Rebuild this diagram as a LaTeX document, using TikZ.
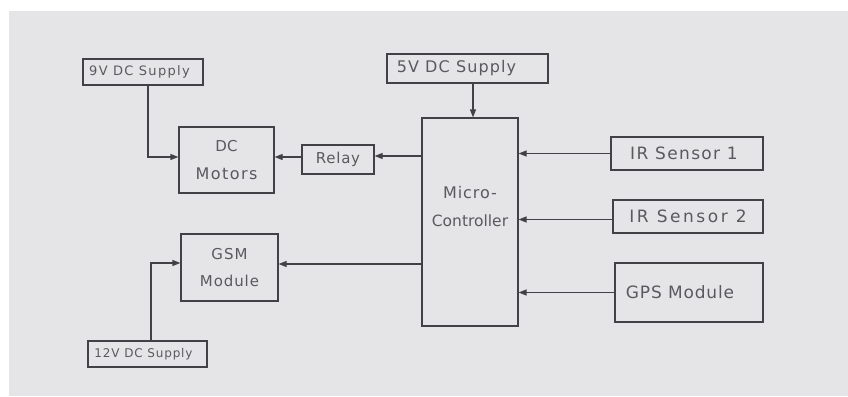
\documentclass[tikz,border=0pt]{standalone}
\usepackage{fontspec}
\setmainfont{DejaVu Sans}
\usetikzlibrary{arrows.meta}
\definecolor{paper}{HTML}{E5E5E8}
\definecolor{ink}{HTML}{414146}
\definecolor{txt}{HTML}{5A5A5E}
\newcommand\lbl[3]{{\fontsize{#1}{18}\selectfont\addfontfeatures{LetterSpace=#2}#3}}
\begin{document}
\begin{tikzpicture}[x=1pt,y=-1pt,
  box/.style={draw=ink, line width=1.2pt, text=txt, inner sep=0pt, align=center,
    font=\fontsize{15}{18}\selectfont},
  plain/.style={text=txt, inner sep=0pt, align=center, font=\fontsize{15}{18}\selectfont},
  arr/.style={draw=ink, line width=1.2pt, -{Triangle[length=8pt,width=6pt]}}]
\useasboundingbox (0,0) rectangle (848,396);
\fill[white] (0,0) rectangle (848,396);
\fill[paper] (9,11) rectangle (848,396);

% boxes
\node[box, minimum width=120pt, minimum height=26pt] (s9) at (143,72) {\lbl{13}{10}{9V DC Supply}\hspace*{7pt}};
\node[box, minimum width=95pt, minimum height=66pt] (mot) at (226.5,160) {\lbl{15}{0}{DC}\\[10pt]\lbl{16}{9}{Motors}};
\node[box, minimum width=72pt, minimum height=29pt] (rel) at (338,159.5) {\lbl{15}{5}{Relay}};
\node[box, minimum width=161pt, minimum height=29pt] (s5) at (467.5,68.5) {\lbl{16}{7}{5V DC Supply}\hspace*{22pt}};
\node[box, minimum width=96pt, minimum height=208pt] (mc) at (470,222) {};
\node[plain] (mcl) at (470,207) {\lbl{16}{6}{Micro-}\\[10pt]\lbl{15.5}{0}{Controller}};
\node[box, minimum width=152pt, minimum height=33pt] (ir1) at (687,153.5) {\lbl{17}{8}{IR Sensor 1}\hspace*{6pt}};
\node[box, minimum width=150pt, minimum height=33pt] (ir2) at (688,216.5) {\lbl{17}{15}{IR Sensor 2}};
\node[box, minimum width=148pt, minimum height=59pt] (gps) at (689,292.5) {\lbl{17}{5}{GPS Module}\hspace*{18pt}};
\node[box, minimum width=97pt, minimum height=67pt] (gsm) at (229.5,267.5) {\lbl{15}{7}{GSM}\\[9pt]\lbl{15}{6}{Module}};
\node[box, minimum width=119pt, minimum height=26pt] (s12) at (147.5,354) {\lbl{12}{7}{12V DC Supply}\hspace*{8pt}};

% connectors
\draw[arr] ([xshift=5pt]s9.south) |- ([yshift=3pt]mot.west);
\draw[arr] ([yshift=2.5pt]rel.west) -- ([yshift=2.5pt]rel.west -| mot.east);
\draw[arr] ([yshift=3.5pt]rel.east -| mc.west) -- ([yshift=3.5pt]rel.east);
\draw[arr] ([xshift=5.5pt]s5.south) -- ([xshift=5.5pt]s5.south |- mc.north);
\draw[arr] (ir1.west) -- (ir1.west -| mc.east);
\draw[arr] ([yshift=-3pt]ir2.west) -- ([yshift=-3pt]ir2.west -| mc.east);
\draw[arr] (gps.west) -- (gps.west -| mc.east);
\draw[arr] ([yshift=3.5pt]gsm.east -| mc.west) -- ([yshift=3.5pt]gsm.east);
\draw[arr] ([xshift=3.5pt]s12.north) |- ([yshift=4.5pt]gsm.west);
\end{tikzpicture}
\end{document}
